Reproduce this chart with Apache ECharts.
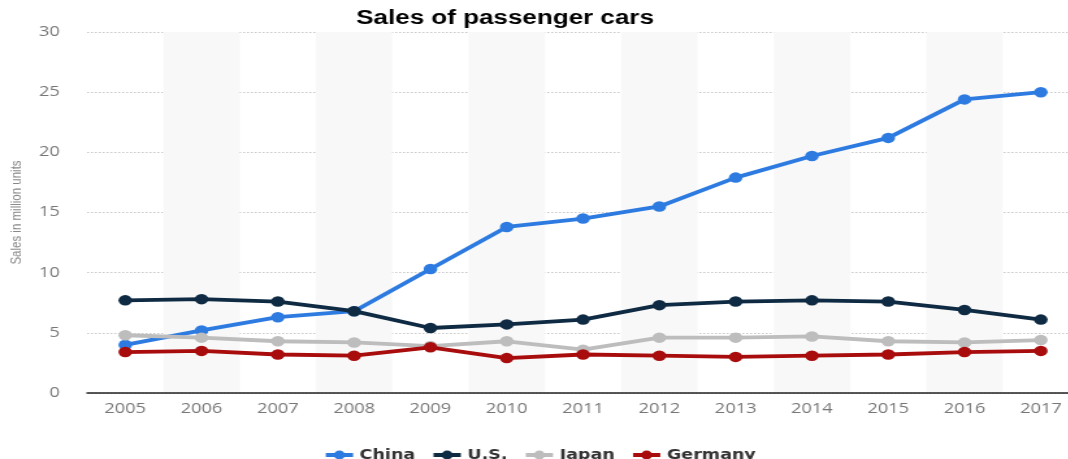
<!DOCTYPE html>
<html>
<head>
<meta charset="utf-8">
<script src="https://cdn.jsdelivr.net/npm/echarts@6/dist/echarts.min.js"></script>
<style>
  html, body { margin: 0; padding: 0; background: #fff; overflow: hidden; width: 1068px; height: 459px; }
  /* the chart is laid out narrower and stretched horizontally to fill the page */
  #chart { width: 830px; height: 459px; transform: scaleX(1.3); transform-origin: 0 0; }
</style>
</head>
<body>
<div id="chart"></div>
<script>
// Passenger car sales by country, million units
const years = ['2005','2006','2007','2008','2009','2010','2011','2012','2013','2014','2015','2016','2017'];
const china   = [4.0, 5.2, 6.3, 6.8, 10.3, 13.8, 14.5, 15.5, 17.9, 19.7, 21.2, 24.4, 25.0];
const us      = [7.7, 7.8, 7.6, 6.8, 5.4, 5.7, 6.1, 7.3, 7.6, 7.7, 7.6, 6.9, 6.1];
const japan   = [4.8, 4.6, 4.3, 4.2, 3.9, 4.3, 3.6, 4.6, 4.6, 4.7, 4.3, 4.2, 4.4];
const germany = [3.4, 3.5, 3.2, 3.1, 3.8, 2.9, 3.2, 3.1, 3.0, 3.1, 3.2, 3.4, 3.5];
const yTicks  = [0, 5, 10, 15, 20, 25, 30];
const seriesNames = ['China', 'U.S.', 'Japan', 'Germany'];

const colors = { china: '#2d7be0', us: '#0f2a43', japan: '#bdbdbd', germany: '#a80c0c' };

function lineSeries(name, data, color, z) {
  return {
    name: name,
    type: 'line',
    data: data,
    z: z,
    symbol: 'circle',
    symbolSize: 10.5,
    lineStyle: { width: 3.8, color: color },
    itemStyle: { color: color },
    emphasis: { disabled: true }
  };
}

const chart = echarts.init(document.getElementById('chart'), null, { renderer: 'canvas' });
chart.setOption({
  animation: false,
  title: {
    text: 'Sales of passenger cars',
    left: 269,
    top: 3,
    textStyle: { fontFamily: 'Liberation Sans', fontWeight: 'bold', fontSize: 20, color: '#000' }
  },
  legend: {
    top: 443,
    left: 'center',
    itemWidth: 21,
    itemHeight: 11,
    itemGap: 12,
    lineStyle: { width: 4 },
    textStyle: { fontFamily: 'DejaVu Sans', fontWeight: 'bold', fontSize: 13.5, color: '#333' },
    data: seriesNames
  },
  grid: { left: 67, right: 0, top: 32, bottom: 66, containLabel: false, outerBoundsMode: 'none' },
  xAxis: {
    type: 'category',
    data: years,
    boundaryGap: true,
    axisLine: { show: true, lineStyle: { color: '#222', width: 1.5 } },
    axisTick: { show: false },
    axisLabel: { color: '#777', fontFamily: 'Open Sans', fontSize: 14, margin: 9 },
    splitArea: { show: true, areaStyle: { color: ['rgba(255,255,255,0)', '#f8f8f8'] } }
  },
  yAxis: {
    type: 'value',
    min: yTicks[0],
    max: yTicks[yTicks.length - 1],
    interval: yTicks[1] - yTicks[0],
    name: 'Sales in million units',
    nameLocation: 'middle',
    nameGap: 47,
    nameTextStyle: { color: '#888', fontFamily: 'Liberation Sans', fontSize: 11.5 },
    axisLine: { show: false },
    axisTick: { show: false },
    axisLabel: { color: '#777', fontFamily: 'Open Sans', fontSize: 14, margin: 21 },
    splitLine: { lineStyle: { color: '#c8c8c8', type: [1.5, 1.5], width: 1 } }
  },
  series: [
    lineSeries('China', china, colors.china, 2),
    lineSeries('U.S.', us, colors.us, 4),
    lineSeries('Japan', japan, colors.japan, 2),
    lineSeries('Germany', germany, colors.germany, 3)
  ]
});
</script>
</body>
</html>
